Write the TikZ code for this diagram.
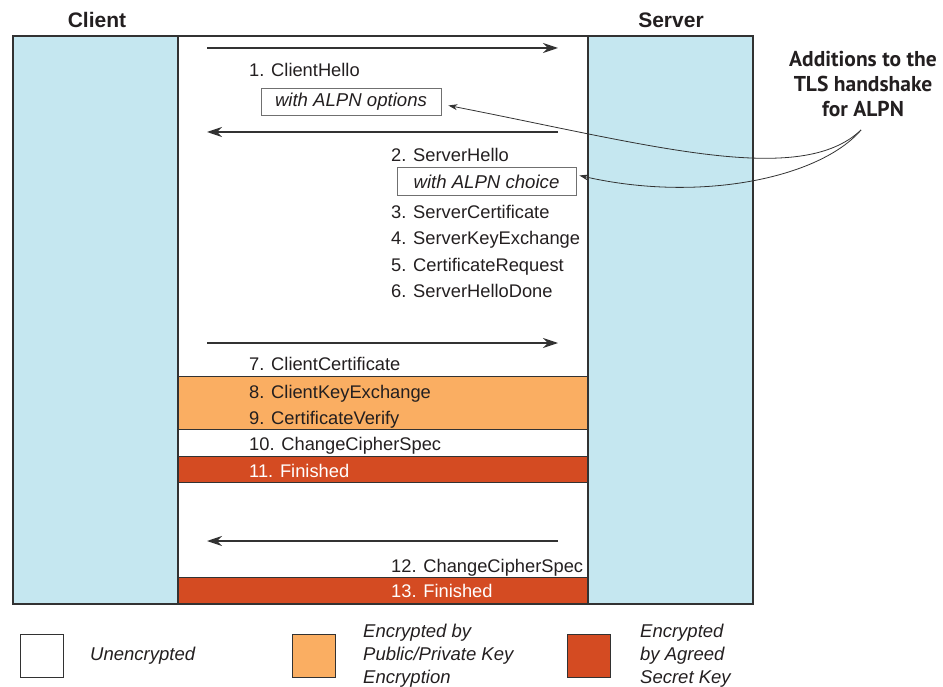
\documentclass[tikz,border=0pt]{standalone}
\usepackage{fontspec}
\setmainfont{Liberation Sans}
\newfontfamily\calloutfont{PT Sans}
\usetikzlibrary{arrows.meta}
\definecolor{colblue}{RGB}{197,231,240}
\definecolor{pkorange}{RGB}{250,174,98}
\definecolor{secretred}{RGB}{212,75,34}
\definecolor{linegray}{RGB}{50,50,50}
\definecolor{inkblack}{RGB}{35,31,32}
\begin{document}
\begin{tikzpicture}[x=1pt,y=-1pt,
  msg/.style={inner sep=0pt, anchor=base west, text=inkblack, font=\fontsize{18.3}{22}\selectfont},
  whitemsg/.style={msg, text=white},
  optbox/.style={draw=linegray!70, line width=0.8pt, inner sep=0pt, text=inkblack, font=\fontsize{18.6}{22}\selectfont\itshape},
  flow/.style={draw=linegray, line width=1.3pt, -{Stealth[length=15pt,width=10pt]}},
  callarrow/.style={draw=linegray, line width=0.8pt, -{Stealth[length=9pt,width=6pt]}},
  legbox/.style={draw=linegray, line width=1pt, minimum width=43pt, minimum height=43pt, inner sep=0pt},
  legtext/.style={anchor=west, inner sep=0pt, align=left, text=inkblack, font=\fontsize{18.5}{23}\selectfont\itshape},
  title/.style={inner sep=0pt, text=inkblack, font=\fontsize{21}{24}\selectfont\bfseries}]
\useasboundingbox (0,0) rectangle (943,687);
% columns
\fill[colblue] (13,36) rectangle (178,604);
\fill[colblue] (588,36) rectangle (753,604);
% bands
\filldraw[fill=pkorange, draw=linegray, line width=1pt] (178,376) rectangle (588,429);
\filldraw[fill=secretred, draw=linegray, line width=1pt] (178,456) rectangle (588,482);
\filldraw[fill=secretred, draw=linegray, line width=1pt] (178,577) rectangle (588,604);
% frame
\draw[linegray, line width=1.5pt] (13,36) rectangle (753,604);
\draw[linegray, line width=1.5pt] (178,36) -- (178,604);
\draw[linegray, line width=1.5pt] (588,36) -- (588,604);
% titles
\node[title] (client) at (97,20) {Client};
\node[title] (server) at (671,20) {Server};
% arrow endpoints
\coordinate (a1l) at (207,48); \coordinate (a1r) at (558,48);
\coordinate (a2l) at (207,132); \coordinate (a2r) at (558,132);
\coordinate (a3l) at (207,343); \coordinate (a3r) at (558,343);
\coordinate (a4l) at (207,541); \coordinate (a4r) at (558,541);
\draw[flow] (a1l) -- (a1r);
\draw[flow] (a2r) -- (a2l);
\draw[flow] (a3l) -- (a3r);
\draw[flow] (a4r) -- (a4l);
% messages
\node[msg] (m1) at (249,76.5) {1. ClientHello};
\node[optbox, minimum width=180pt, minimum height=27pt] (opt) at (351,101.5) {with ALPN options};
\node[msg] (m2) at (391,162) {2. ServerHello};
\node[optbox, minimum width=179pt, minimum height=28pt] (cho) at (486.5,181.5) {with ALPN choice};
\node[msg] (m3) at (391,218.5) {3. ServerCertificate};
\node[msg] (m4) at (391,245) {4. ServerKeyExchange};
\node[msg] (m5) at (391,271.5) {5. CertificateRequest};
\node[msg] (m6) at (391,298) {6. ServerHelloDone};
\node[msg] (m7) at (249,370.5) {7. ClientCertificate};
\node[msg] (m8) at (249,398) {8. ClientKeyExchange};
\node[msg] (m9) at (249,424) {9. CertificateVerify};
\node[msg] (m10) at (249,450) {10. ChangeCipherSpec};
\node[whitemsg] (m11) at (249,477) {11. Finished};
\node[msg] (m12) at (391,572) {12. ChangeCipherSpec};
\node[whitemsg] (m13) at (391,597) {13. Finished};
% callout
\node[inner sep=0pt, align=center, text=inkblack, font=\calloutfont\bfseries\fontsize{21.5}{25}\selectfont] (callout) at (863,84) {Additions to the\\TLS handshake\\for ALPN};
\coordinate (ctip) at (861,130);
\draw[callarrow] (ctip) .. controls (800,188) and (650,145) .. ([xshift=7pt,yshift=-4pt]opt.east);
\draw[callarrow] (ctip) .. controls (820,178) and (700,203) .. ([xshift=3pt,yshift=6pt]cho.east);
% legend
\node[legbox, fill=white] (lw) at (41.5,655.5) {};
\node[legtext] (lwt) at (90,656) {Unencrypted};
\node[legbox, fill=pkorange] (lo) at (313.5,655.5) {};
\node[legtext] (lot) at (363,656) {Encrypted by\\Public/Private Key\\Encryption};
\node[legbox, fill=secretred] (lr) at (588.5,655.5) {};
\node[legtext] (lrt) at (640,656) {Encrypted\\by Agreed\\Secret Key};
\end{tikzpicture}
\end{document}
